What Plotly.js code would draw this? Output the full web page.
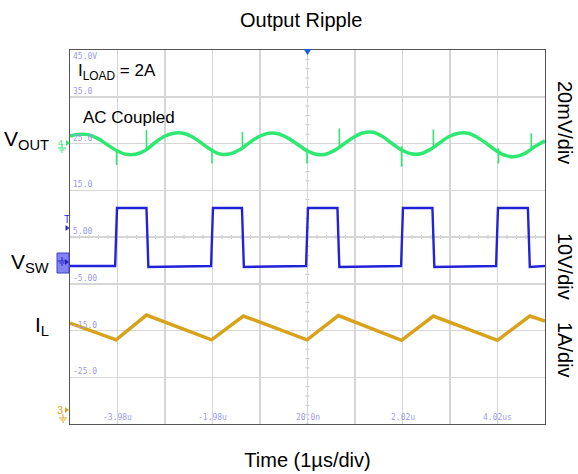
<!DOCTYPE html>
<html>
<head>
<meta charset="utf-8">
<script src="https://cdn.plot.ly/plotly-3.0.1.min.js"></script>
<style>html,body{margin:0;padding:0;background:#fff;}#chart{width:578px;height:474px;}</style>
</head>
<body>
<div id="chart"></div>
<script>
// ---- data (time in µs, values in screen-scale units) ----
const tOut = [-4.98,-4.8,-4.6,-4.4,-4.2,-4.0,-3.8,-3.6,-3.4,-3.2,-3.0,-2.8,-2.6,-2.4,-2.2,-2.0,-1.8,-1.6,-1.4,-1.2,-1.0,-0.8,-0.6,-0.4,-0.2,0.0,0.2,0.4,0.6,0.8,1.0,1.2,1.4,1.6,1.8,2.0,2.2,2.4,2.6,2.8,3.0,3.2,3.4,3.6,3.8,4.0,4.2,4.4,4.6,4.8,5.02];
const vOut = [26.6,26.95,26.9,26.1,24.8,23.5,22.7,22.7,23.5,25.1,26.5,27.2,27.2,26.4,25.0,23.6,22.7,22.8,23.7,25.2,26.5,27.2,27.1,26.2,24.9,23.5,22.7,22.7,23.6,25.0,26.4,27.3,27.4,26.5,25.0,23.6,22.8,22.8,23.7,25.1,26.5,27.2,27.2,26.3,24.9,23.4,22.4,22.2,22.9,24.3,25.6];
const spikeT    = [-4.0,-3.37,-1.99,-1.35,0.01,0.69,2.0,2.67,4.04,4.73];
const spikeBase = [23.4,24.0,24.0,24.3,24.0,24.3,24.4,24.6,24.0,24.0];
const spikeTip  = [20.4,27.9,20.7,27.5,20.7,28.2,20.0,28.0,20.7,27.2];
const tSw = [-4.98,-4.03,-3.99,-3.37,-3.33,-2.01,-1.97,-1.36,-1.32,-0.01,0.03,0.65,0.69,1.99,2.03,2.65,2.69,3.99,4.03,4.66,4.70,5.02];
const vSw = [-1.2,-1.2,11.2,11.2,-1.4,-1.2,11.2,11.2,-1.4,-1.2,11.2,11.2,-1.4,-1.2,11.2,11.2,-1.4,-1.2,11.2,11.2,-1.4,-1.2];
const tIL = [-4.98,-4.01,-3.37,-2.00,-1.33,0.01,0.67,2.00,2.67,4.02,4.70,5.02];
const iL  = [-13.4,-17.0,-11.7,-17.0,-11.9,-17.0,-11.8,-17.1,-11.9,-17.1,-11.9,-13.0];
const yGridVals   = [45,35,25,15,5,-5,-15,-25];
const yGridLabels = ['45.0V','35.0','25.0','15.0','5.00','-5.00','-15.0','-25.0'];
const xTickVals   = [-3.98,-1.98,0.02,2.02,4.02];
const xTickLabels = ['-3.98u','-1.98u','20.0n','2.02u','4.02us'];
const scaleLabels = ['20mV/div','10V/div','1A/div'];
const chanLabels  = ['V<sub>OUT</sub>','V<sub>SW</sub>','I<sub>L</sub>'];

// ---- geometry helpers (decorations only) ----
const L=70,R=545,T=50,B=424;
const P = px => (px-L)/(R-L);
const Q = py => (B-py)/(B-T);

const sx=[],sy=[];
spikeT.forEach((t,i)=>{sx.push(t,t,null);sy.push(spikeBase[i],spikeTip[i],null);});

const traces = [
  {x:tOut,y:vOut,mode:'lines',line:{color:'#2ee872',width:3.5,shape:'spline',smoothing:1},hoverinfo:'skip'},
  {x:sx,y:sy,mode:'lines',line:{color:'#2ee872',width:1.6},hoverinfo:'skip'},
  {x:tSw,y:vSw,mode:'lines',line:{color:'#2222d8',width:2.4},hoverinfo:'skip'},
  {x:tIL,y:iL,mode:'lines',line:{color:'#d8a31a',width:3.5},hoverinfo:'skip'}
];

const mono={family:'DejaVu Sans Mono, monospace',size:8,color:'#9b9bef'};
const sans='Liberation Sans, Arial, sans-serif';
const ann=[];
yGridVals.forEach((v,i)=>{
  ann.push({xref:'paper',yref:'y',x:0,y:v,xanchor:'left',yanchor:i===0?'top':'bottom',xshift:1,yshift:i===0?0:-1,
    text:yGridLabels[i],showarrow:false,font:mono});
});
xTickVals.forEach((v,i)=>{
  ann.push({xref:'x',yref:'paper',x:v,y:0,xanchor:'center',yanchor:'bottom',yshift:0,
    text:xTickLabels[i],showarrow:false,font:mono});
});
const scaleY=[122,266,350];
scaleLabels.forEach((s,i)=>{
  ann.push({xref:'paper',yref:'paper',x:P(565),y:Q(scaleY[i]),xanchor:'center',yanchor:'middle',textangle:90,
    text:s,showarrow:false,font:{family:sans,size:20,color:'#000'}});
});
const chanY=[140,263,326];
chanLabels.forEach((s,i)=>{
  ann.push({xref:'paper',yref:'paper',x:P(51),y:Q(chanY[i]),xanchor:'right',yanchor:'middle',
    text:s,showarrow:false,font:{family:sans,size:21,color:'#000'}});
});
ann.push({xref:'paper',yref:'paper',x:P(76),y:Q(72),xanchor:'left',yanchor:'middle',text:'I<sub>LOAD</sub> = 2A',showarrow:false,font:{family:sans,size:17,color:'#000'}});
ann.push({xref:'paper',yref:'paper',x:P(81),y:Q(117),xanchor:'left',yanchor:'middle',text:'AC Coupled',showarrow:false,font:{family:sans,size:17,color:'#000'}});
// channel markers
ann.push({xref:'paper',yref:'paper',x:P(60),y:Q(143),xanchor:'center',yanchor:'middle',text:'4',showarrow:false,font:{family:sans,size:9,color:'#2ee872'}});
ann.push({xref:'paper',yref:'paper',x:P(67),y:Q(219),xanchor:'center',yanchor:'middle',text:'T',showarrow:false,font:{family:sans,size:10,color:'#2a2ae0'}});
ann.push({xref:'paper',yref:'paper',x:P(59.5),y:Q(410),xanchor:'center',yanchor:'middle',text:'3',showarrow:false,font:{family:sans,size:11,color:'#d8a31a'}});

function ground(cx,top,color){
  return [
    {type:'line',xref:'paper',yref:'paper',x0:P(cx),x1:P(cx),y0:Q(top),y1:Q(top+4),line:{color:color,width:1}},
    {type:'line',xref:'paper',yref:'paper',x0:P(cx-4),x1:P(cx+4),y0:Q(top+4),y1:Q(top+4),line:{color:color,width:1}},
    {type:'line',xref:'paper',yref:'paper',x0:P(cx-2.5),x1:P(cx+2.5),y0:Q(top+6),y1:Q(top+6),line:{color:color,width:1}},
    {type:'line',xref:'paper',yref:'paper',x0:P(cx-1),x1:P(cx+1),y0:Q(top+8),y1:Q(top+8),line:{color:color,width:1}}
  ];
}
function arrowR(x0,cy,color){
  return {type:'path',xref:'paper',yref:'paper',path:`M${P(x0)},${Q(cy-3)} L${P(x0+4)},${Q(cy)} L${P(x0)},${Q(cy+3)} Z`,fillcolor:color,line:{color:color,width:0}};
}
// minor ticks along center lines
let tp='';
for(let k=0;k<=40;k++){const y=-35+k*2;tp+=`M${0.02-0.042},${y} L${0.02+0.042},${y} `;}
for(let k=0;k<=50;k++){const x=-4.98+k*0.2;tp+=`M${x},${5-0.43} L${x},${5+0.43} `;}
const shapes=[
  {type:'path',xref:'x',yref:'y',path:tp,line:{color:'#c4c4c4',width:1},layer:'below'},
  {type:'path',xref:'paper',yref:'paper',path:`M${P(303.5)},${Q(49)} L${P(311.5)},${Q(49)} L${P(307.5)},${Q(55)} Z`,fillcolor:'#1f60dc',line:{width:0}},
  ...ground(62,144,'#2ee872'), arrowR(66,143,'#2ee872'),
  arrowR(65.5,228,'#2a2ae0'),
  {type:'rect',xref:'paper',yref:'paper',x0:P(57),x1:P(69),y0:Q(273),y1:Q(253),fillcolor:'#8383f5',line:{color:'#3c3cd6',width:1}},
  ...ground(62,257,'#2424c0'), arrowR(65,262,'#2424c0'),
  ...ground(63,414,'#d8a31a'), arrowR(65,410,'#d8a31a')
];

const layout={
  width:578,height:474,
  margin:{l:L,r:578-R,t:T,b:474-B},
  paper_bgcolor:'#fff',plot_bgcolor:'#fff',
  showlegend:false,
  title:{text:'Output Ripple',x:0.521,xanchor:'center',y:1-20/474,yanchor:'middle',yref:'container',font:{family:sans,size:20,color:'#000'}},
  xaxis:{range:[-4.98,5.02],tick0:0.02,dtick:1,showgrid:true,gridcolor:'#d6d6d6',gridwidth:1.5,zeroline:false,
    showticklabels:false,ticks:'',showline:true,mirror:true,linecolor:'#555',linewidth:1,fixedrange:true,
    title:{text:'Time (1µs/div)',standoff:28,font:{family:sans,size:20,color:'#000'}}},
  yaxis:{range:[-35,45],tick0:5,dtick:10,showgrid:true,gridcolor:'#d6d6d6',gridwidth:1.5,zeroline:false,
    showticklabels:false,ticks:'',showline:true,mirror:true,linecolor:'#555',linewidth:1,fixedrange:true},
  annotations:ann,shapes:shapes
};
Plotly.newPlot('chart',traces,layout,{displayModeBar:false,staticPlot:true});
</script>
</body>
</html>
